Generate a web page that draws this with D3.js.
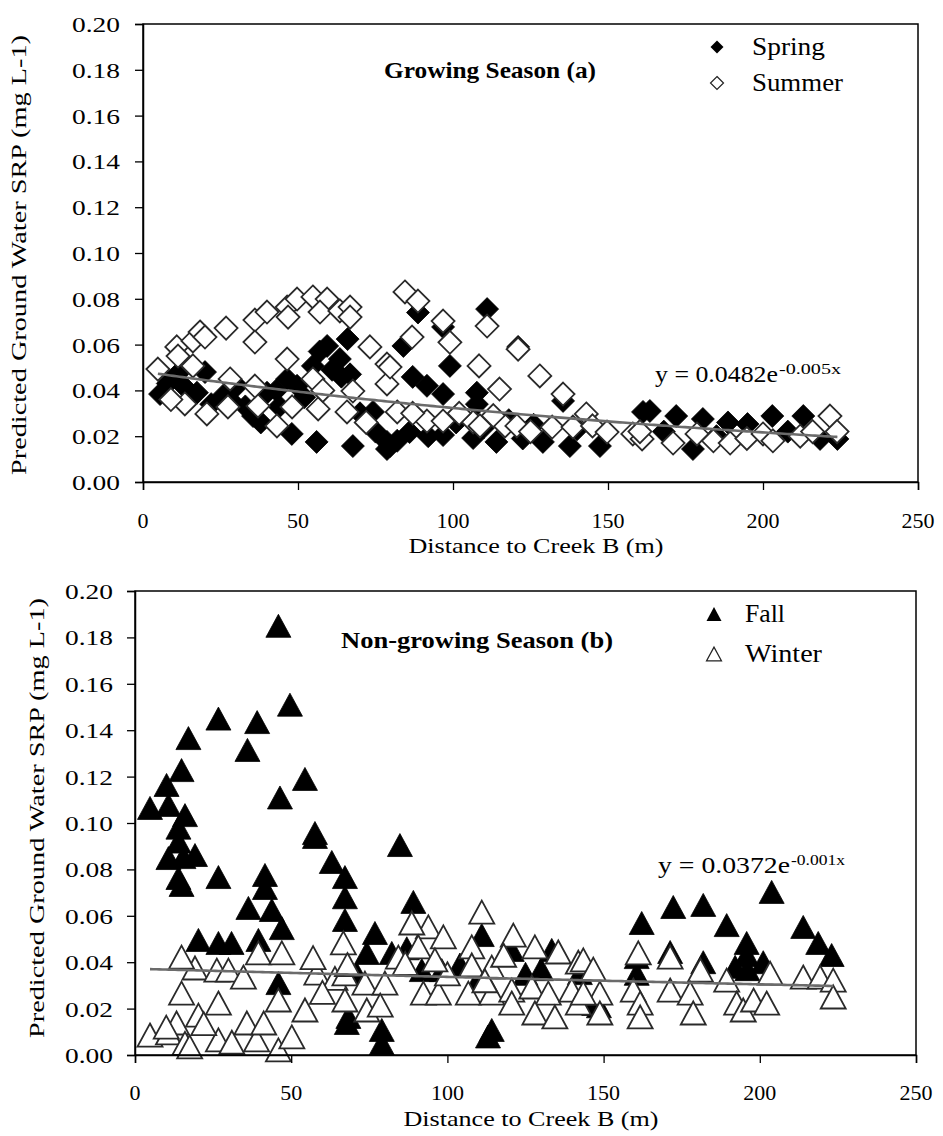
<!DOCTYPE html>
<html><head><meta charset="utf-8">
<script src="https://cdn.jsdelivr.net/npm/d3@7"></script>
<style>body{margin:0;background:#fff}svg{display:block}</style>
</head><body>
<svg id="c" width="943" height="1136"></svg>
<script>
// ---------- data ----------
const xTicks = [0, 50, 100, 150, 200, 250];
const yTicks = [0, 0.02, 0.04, 0.06, 0.08, 0.10, 0.12, 0.14, 0.16, 0.18, 0.20];
const xTitle = "Distance to Creek B (m)";
const yTitle = "Predicted Ground Water SRP (mg L-1)";

const springPts = [
 [5.5,0.0384],[11,0.047],[13,0.042],[17.4,0.039],[20,0.048],[25.8,0.0376],[30.3,0.042],[35.5,0.0288],
 [40,0.039],[46.5,0.045],[49.7,0.042],[48,0.021],[56,0.0175],[67.7,0.0157],[57,0.057],[59.4,0.0594],
 [63.5,0.0537],[54.8,0.0507],[66,0.0624],[66.8,0.047],[74.2,0.0306],[78.7,0.0175],[78.7,0.0144],
 [8,0.043],[15,0.036],[22,0.034],[28,0.036],[33,0.033],[38,0.026],[43,0.04],[44,0.033],[52,0.037],
 [61,0.049],[64,0.046],[70,0.03],[75,0.022],[82,0.018],
 [111,0.0755],[88.7,0.074],[96.8,0.0677],[84,0.0594],[99,0.0507],[87,0.0459],[91.6,0.042],[96.8,0.0384],
 [107.7,0.039],[107.7,0.034],[121,0.059],[135.5,0.0354],[79.7,0.0157],[86,0.0218],[92,0.02],[96.8,0.0205],
 [106.5,0.0192],[114,0.0175],[122.5,0.019],[129,0.0175],[137.7,0.0157],[147.4,0.0157],[161.3,0.0306],
 [101,0.026],[110,0.024],[118,0.027],[126,0.025],[140,0.023],
 [163.5,0.031],[172,0.0288],[180.6,0.0275],[188.7,0.026],[195,0.0253],[203,0.0288],[213,0.0288],
 [177.4,0.0144],[224,0.0188],[218.4,0.0188],[168,0.022],[185,0.02],[200,0.021],[208,0.022]
];
const summerPts = [
 [4.8,0.0493],[10.9,0.059],[11.3,0.055],[16.1,0.0616],[18.4,0.0655],[20,0.0633],[16.1,0.0507],[26.8,0.0672],
 [36.1,0.0707],[36.1,0.0611],[40,0.0742],[46.5,0.0764],[46.8,0.072],[49.7,0.0799],[54.8,0.0808],[59.4,0.0799],
 [57.1,0.0742],[63.5,0.0747],[66.8,0.0764],[66.8,0.072],[46.5,0.0537],[54.8,0.045],[73.2,0.059],[78.7,0.0515],
 [78.7,0.0428],[67.7,0.0397],[65.8,0.0306],[56.5,0.0319],[48.1,0.0328],[43.2,0.0245],[37.1,0.0332],[27.4,0.0328],
 [20.6,0.0297],[13.5,0.0341],[28.1,0.045],[36.1,0.0419],[9,0.036],[58,0.04],[72,0.026],
 [84.5,0.083],[88.7,0.079],[96.8,0.0703],[86.8,0.0633],[99,0.061],[111,0.0681],[108.4,0.0507],[121,0.058],
 [128,0.0463],[135.5,0.0384],[143,0.0297],[115,0.0406],[79.7,0.0502],[82,0.0306],[91.6,0.0266],[96.8,0.0266],
 [106.5,0.0262],[108.7,0.0245],[116.8,0.0245],[120.6,0.0245],[132,0.024],[138.7,0.024],[145,0.0245],
 [149.7,0.0218],[158,0.021],[161,0.0188],[87,0.03],[102,0.03],[113,0.029],[125,0.022],
 [160.3,0.022],[171,0.017],[178.7,0.021],[184,0.018],[189.4,0.017],[194.8,0.019],[200,0.021],[203.2,0.018],
 [212,0.02],[216,0.022],[221.6,0.0288],[223.9,0.022]
];
const fallPts = [
 [45.9,0.185],[49.6,0.151],[26.7,0.145],[39.1,0.1435],[17.1,0.1366],[36,0.1315],[14.9,0.1228],[54.4,0.119],
 [10.1,0.1164],[46.4,0.111],[4.8,0.1065],[10.7,0.1078],[16,0.1034],[13.9,0.098],[57.6,0.0957],[13.9,0.092],
 [10.7,0.0849],[15.5,0.0853],[19.2,0.0862],[13.9,0.0763],[14.9,0.0733],[26.7,0.0767],[41.6,0.0776],[41.6,0.072],
 [36.3,0.0634],[43.8,0.0625],[47,0.0547],[39.5,0.0496],[20.3,0.0496],[26.7,0.0483],[30.9,0.0483],[57.6,0.094],
 [63,0.0832],[67.2,0.0767],[67.2,0.068],[67.2,0.0582],[67.8,0.0138],[45.9,0.031],[84.8,0.0905],[89.1,0.066],
 [76.8,0.0526],[74.2,0.044],[82.2,0.044],[87,0.046],[111,0.0517],[120.6,0.0453],[133.4,0.0453],[79,0.0108],
 [79,0.005],[114.2,0.0108],[113,0.008],[68.3,0.0164],[91.8,0.0366],[98.2,0.0366],[110,0.033],[71,0.035],
 [203.8,0.0703],[172.3,0.0638],[181.9,0.0647],[162.2,0.0569],[189.4,0.056],[213.9,0.0552],[218.7,0.0483],
 [223,0.0431],[195.8,0.0483],[195.8,0.0431],[201.1,0.04],[160.6,0.0422],[171.3,0.0444],[181.9,0.04],
 [192.1,0.038],[196,0.037],[160.6,0.035],[142.4,0.0353],[147,0.022],[148.5,0.021],[125,0.035],[130,0.037],[104,0.039]
];
const winterPts = [
 [4.8,0.0086],[13.3,0.0138],[10.7,0.0095],[16,0.005],[17.5,0.0035],[14.9,0.0267],[19.2,0.0375],[14.9,0.0422],
 [20.3,0.0172],[26.7,0.0224],[26.7,0.0065],[26.2,0.0366],[29.9,0.0366],[34.7,0.0336],[35.8,0.0138],[38.9,0.0065],
 [39.5,0.044],[47,0.044],[41.2,0.0138],[45.9,0.0237],[45.9,0.0022],[50.2,0.0078],[54.4,0.0194],[58.2,0.0353],
 [64,0.033],[66.7,0.0483],[67.2,0.0237],[67.2,0.035],[111,0.0616],[121.1,0.0517],[93.9,0.0552],[98.7,0.0509],
 [88.6,0.0569],[90.7,0.0466],[128,0.0466],[135.5,0.0444],[141.9,0.04],[107.8,0.0466],[107.8,0.0388],[114.2,0.0379],
 [84.3,0.0422],[86.5,0.0395],[73.6,0.031],[80,0.031],[68,0.039],[92.3,0.0267],[97.1,0.0267],[106.7,0.0267],
 [114.2,0.0267],[120.6,0.028],[127,0.0293],[132.3,0.0267],[139.8,0.028],[141.9,0.0224],[128,0.0181],[134.4,0.0164],
 [74.2,0.0194],[78.5,0.0215],[120.6,0.0224],[112,0.032],[161.1,0.044],[171.3,0.0422],[181,0.0366],[189.4,0.0323],
 [203.3,0.0353],[213.9,0.0336],[219.3,0.0336],[223.5,0.0323],[223.5,0.025],[143.5,0.041],[146.7,0.037],
 [148.8,0.0267],[143.5,0.0267],[148.8,0.0181],[159.5,0.028],[161.7,0.0224],[161.7,0.0164],[171.3,0.028],
 [177.7,0.0267],[178.7,0.0181],[192.6,0.0224],[194.7,0.0194],[198,0.0237],[202.2,0.0224],[10,0.012],[22,0.0135],
 [31,0.0055],[60,0.027],[57,0.042],[100,0.035],[118,0.043],[96,0.041]
];
// trend coefficients [a, b] for y = a*e^(b x) as drawn, and their printed labels
const growTrend = [0.0482, -0.004];
const growLabel = ["y = 0.0482e", "-0.005x"];
const nonGrowTrend = [0.0372, -0.001];
const nonGrowLabel = ["y = 0.0372e", "-0.001x"];
const growTitle = "Growing Season (a)";
const nonGrowTitle = "Non-growing Season (b)";
const growNames = ["Spring", "Summer"];
const nonGrowNames = ["Fall", "Winter"];

// ---------- drawing ----------
const FONT = "'Liberation Serif','Times New Roman',serif";
const svg = d3.select("#c");

const diamondSym = { draw(ctx, size) { const r = Math.sqrt(size) / 2;
  ctx.moveTo(0, -r); ctx.lineTo(r, 0); ctx.lineTo(0, r); ctx.lineTo(-r, 0); ctx.closePath(); } };
const triSym = { draw(ctx, size) { const w = Math.sqrt(size) / 2, h = w * 0.92;
  ctx.moveTo(0, -h); ctx.lineTo(w, h); ctx.lineTo(-w, h); ctx.closePath(); } };

function txt(g, x, y, s, o) {
  const t = g.append("text").attr("x", x).attr("y", y).text(s)
    .attr("font-family", FONT).attr("font-size", o.size || 22)
    .attr("fill", "#000").attr("text-anchor", o.anchor || "start");
  if (o.weight) t.attr("font-weight", o.weight);
  if (o.width) t.attr("textLength", o.width).attr("lengthAdjust", "spacingAndGlyphs");
  if (o.rotate) t.attr("transform", `rotate(${o.rotate},${x},${y})`);
  return t;
}

function panel(p) {
  const g = svg.append("g");
  const x = d3.scaleLinear().domain([0, 250]).range([p.x0, p.x1]);
  const y = d3.scaleLinear().domain([0, 0.2]).range([p.y0, p.y1]);

  const symA = d3.symbol().type(p.sym).size(p.symSize);
  g.append("g").selectAll("path").data(p.a).join("path")
    .attr("d", symA).attr("transform", d => `translate(${x(d[0])},${y(d[1])})`)
    .attr("fill", "#000").attr("stroke", "#000").attr("stroke-width", 0.8);
  g.append("g").selectAll("path").data(p.b).join("path")
    .attr("d", symA).attr("transform", d => `translate(${x(d[0])},${y(d[1])})`)
    .attr("fill", "#fff").attr("stroke", "#2a2a2a").attr("stroke-width", 1.8);

  // trend line
  const all = p.a.concat(p.b);
  const xmin = d3.min(all, d => d[0]), xmax = d3.max(all, d => d[0]);
  const xs = d3.range(xmin, xmax, 1).concat([xmax]);
  g.append("path").datum(xs)
    .attr("d", d3.line().x(v => x(v)).y(v => y(p.trend[0] * Math.exp(p.trend[1] * v))))
    .attr("fill", "none").attr("stroke", "#6b6b6b").attr("stroke-width", 2.6);

  // frame
  g.append("rect").attr("x", p.x0).attr("y", p.y1).attr("width", p.x1 - p.x0).attr("height", p.y0 - p.y1)
    .attr("fill", "none").attr("stroke", "#000").attr("stroke-width", 1.5);

  const ax = g.append("g").attr("transform", `translate(0,${p.y0})`)
    .call(d3.axisBottom(x).tickValues(xTicks).tickSize(8));
  ax.select(".domain").attr("stroke-width", 1.5);
  ax.selectAll(".tick line").attr("stroke-width", 1.3);
  ax.selectAll("text").remove();
  const ay = g.append("g").attr("transform", `translate(${p.x0},0)`)
    .call(d3.axisLeft(y).tickValues(yTicks).tickSize(8));
  ay.select(".domain").attr("stroke-width", 1.5);
  ay.selectAll(".tick line").attr("stroke-width", 1.3);
  ay.selectAll("text").remove();

  xTicks.forEach(v => txt(g, x(v), p.xLabY, d3.format("d")(v), { anchor: "middle", size: 22 }));
  yTicks.forEach(v => txt(g, p.yLabX, y(v) + 8, d3.format(".2f")(v), { anchor: "end", size: 22, width: 48 }));

  txt(g, p.xTitleX, p.xTitleY, xTitle, { anchor: "middle", size: 22, width: 255 });
  txt(g, p.yTitleX, p.yTitleY, yTitle, { anchor: "middle", size: 22, width: p.yTitleW, rotate: -90 });

  txt(g, p.titleX, p.titleY, p.title, { anchor: "middle", size: 24, weight: "bold", width: p.titleW });

  const symL = d3.symbol().type(p.sym).size(p.legSize);
  g.append("path").attr("d", symL).attr("transform", `translate(${p.legX},${p.legY[0]})`).attr("fill", "#000");
  g.append("path").attr("d", symL).attr("transform", `translate(${p.legX},${p.legY[1]})`)
    .attr("fill", "#fff").attr("stroke", "#222").attr("stroke-width", 1.2);
  txt(g, p.legTX, p.legY[0] + 8, p.names[0], { size: 25, width: p.legW[0] });
  txt(g, p.legTX, p.legY[1] + 8, p.names[1], { size: 25, width: p.legW[1] });

  txt(g, p.eqX, p.eqY, p.label[0], { size: 23, width: p.eqW });
  txt(g, p.eqX + p.eqW + 1, p.eqY - 8, p.label[1], { size: 14, width: p.eqSupW });
}

panel({
  x0: 143, x1: 918, y0: 482, y1: 24,
  a: springPts, b: summerPts, sym: diamondSym, symSize: 23 * 23, legSize: 13 * 13,
  trend: growTrend, label: growLabel, names: growNames, title: growTitle,
  xLabY: 528, yLabX: 120, xTitleX: 536, xTitleY: 553, yTitleX: 26, yTitleY: 255, yTitleW: 440,
  titleX: 490, titleY: 78, titleW: 212,
  legX: 717, legY: [47, 83], legTX: 752, legW: [73, 91],
  eqX: 655, eqY: 382, eqW: 123, eqSupW: 62
});
panel({
  x0: 135, x1: 916, y0: 1055, y1: 591,
  a: fallPts, b: winterPts, sym: triSym, symSize: 25 * 25, legSize: 15 * 15,
  trend: nonGrowTrend, label: nonGrowLabel, names: nonGrowNames, title: nonGrowTitle,
  xLabY: 1100, yLabX: 113, xTitleX: 531, xTitleY: 1126, yTitleX: 44, yTitleY: 818, yTitleW: 440,
  titleX: 477, titleY: 648, titleW: 272,
  legX: 714, legY: [614, 654], legTX: 745, legW: [40, 77],
  eqX: 658, eqY: 873, eqW: 132, eqSupW: 54
});
</script>
</body></html>
